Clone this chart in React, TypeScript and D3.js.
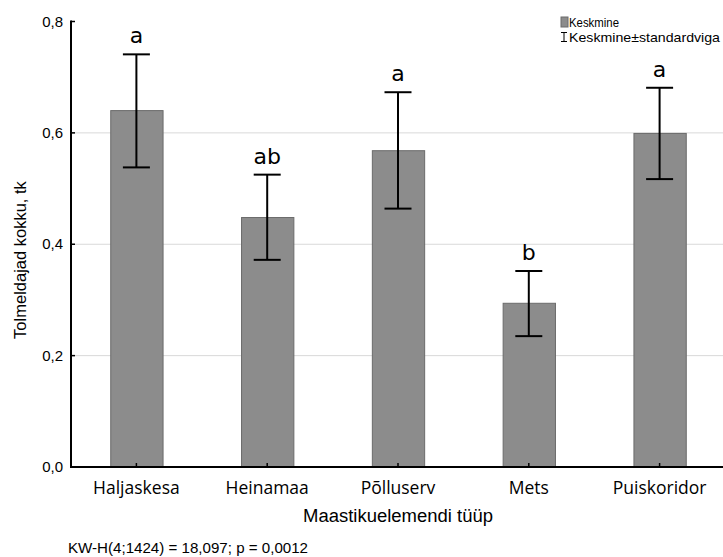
import { useEffect, useRef } from "react";
import * as d3 from "d3";

const categories = ["Haljaskesa", "Heinamaa", "Põlluserv", "Mets", "Puiskoridor"];
const means = [0.64, 0.448, 0.568, 0.294, 0.599];
const upper = [0.741, 0.525, 0.673, 0.352, 0.681];
const lower = [0.538, 0.372, 0.464, 0.235, 0.517];
const groups = ["a", "ab", "a", "b", "a"];
const yTicks = [0, 0.2, 0.4, 0.6, 0.8];

const W = 723;
const H = 557;

const DrawChart = (element: any) => {
  d3.select(element).selectAll("*").remove();

  const svg = d3.select(element);
  const left = 71;
  const right = 725;
  const top = 21.5;
  const bottom = 467;

  const x = d3
    .scaleBand()
    .domain(categories)
    .range([left, right])
    .paddingInner(0.6)
    .paddingOuter(0.3);
  const y = d3.scaleLinear().domain([0, 0.8]).range([bottom, top]);
  const narrow = "'Liberation Sans Narrow', 'Arial Narrow', 'Liberation Sans', sans-serif";

  // grid lines
  svg
    .append("g")
    .selectAll("line")
    .data(yTicks.filter((t) => t > 0 && t < 0.8))
    .enter()
    .append("line")
    .attr("x1", left)
    .attr("x2", W)
    .attr("y1", (d) => y(d))
    .attr("y2", (d) => y(d))
    .style("stroke", "#d9d9d9")
    .style("stroke-width", 1);

  // bars
  svg
    .append("g")
    .selectAll("rect")
    .data(categories)
    .enter()
    .append("rect")
    .attr("x", (d) => x(d)! + 0.5)
    .attr("y", (d, i) => y(means[i]))
    .attr("width", x.bandwidth())
    .attr("height", (d, i) => bottom - y(means[i]))
    .style("fill", "#8c8c8c")
    .style("stroke", "#6b6b6b")
    .style("stroke-width", 1);

  // error bars
  const err = svg.append("g").style("stroke", "#000").style("stroke-width", 2);
  categories.forEach((c, i) => {
    const cx = x(c)! + x.bandwidth() / 2;
    err.append("line").attr("x1", cx).attr("x2", cx).attr("y1", y(upper[i])).attr("y2", y(lower[i]));
    err.append("line").attr("x1", cx - 13.5).attr("x2", cx + 13.5).attr("y1", y(upper[i])).attr("y2", y(upper[i]));
    err.append("line").attr("x1", cx - 13.5).attr("x2", cx + 13.5).attr("y1", y(lower[i])).attr("y2", y(lower[i]));
  });

  // group letters
  svg
    .append("g")
    .selectAll("text")
    .data(categories)
    .enter()
    .append("text")
    .attr("x", (d) => x(d)! + x.bandwidth() / 2)
    .attr("y", (d, i) => y(upper[i]) - 11)
    .attr("text-anchor", "middle")
    .style("font-family", "'DejaVu Sans', Verdana, sans-serif")
    .style("font-size", "22px")
    .style("fill", "#000")
    .text((d, i) => groups[i]);

  // axes
  svg
    .append("line")
    .attr("x1", left)
    .attr("x2", left)
    .attr("y1", top - 1)
    .attr("y2", bottom + 1)
    .style("stroke", "#000")
    .style("stroke-width", 2);
  svg
    .append("line")
    .attr("x1", left - 1)
    .attr("x2", W)
    .attr("y1", bottom)
    .attr("y2", bottom)
    .style("stroke", "#000")
    .style("stroke-width", 2);

  // y ticks
  const yt = svg.append("g");
  yTicks.forEach((t) => {
    yt.append("line")
      .attr("x1", left)
      .attr("x2", left + 4)
      .attr("y1", y(t))
      .attr("y2", y(t))
      .style("stroke", "#000")
      .style("stroke-width", 1.5);
    yt.append("text")
      .attr("x", left - 8)
      .attr("y", y(t) + 5)
      .attr("text-anchor", "end")
      .style("font-family", narrow)
      .style("font-size", "15px")
      .style("fill", "#000")
      .text(d3.format(".1f")(t).replace(".", ","));
  });

  // x ticks and labels
  const xt = svg.append("g");
  categories.forEach((c) => {
    const cx = x(c)! + x.bandwidth() / 2;
    xt.append("line")
      .attr("x1", cx)
      .attr("x2", cx)
      .attr("y1", bottom)
      .attr("y2", bottom - 4)
      .style("stroke", "#000")
      .style("stroke-width", 1.5);
    xt.append("text")
      .attr("x", cx)
      .attr("y", 494)
      .attr("text-anchor", "middle")
      .style("font-family", "'Open Sans', 'DejaVu Sans', sans-serif")
      .style("font-size", "17.5px")
      .style("fill", "#000")
      .text(c);
  });

  // axis titles
  svg
    .append("text")
    .attr("x", 303)
    .attr("y", 522)
    .attr("textLength", 190)
    .attr("lengthAdjust", "spacingAndGlyphs")
    .style("font-family", narrow)
    .style("font-size", "18px")
    .style("fill", "#000")
    .text("Maastikuelemendi tüüp");
  svg
    .append("text")
    .attr("transform", `translate(26, 260) rotate(-90)`)
    .attr("text-anchor", "middle")
    .style("font-family", "'Liberation Sans', Arial, sans-serif")
    .style("font-size", "16.5px")
    .style("fill", "#000")
    .text("Tolmeldajad kokku, tk");

  // stats line
  svg
    .append("text")
    .attr("x", 68)
    .attr("y", 553)
    .attr("textLength", 240)
    .attr("lengthAdjust", "spacingAndGlyphs")
    .style("font-family", narrow)
    .style("font-size", "15px")
    .style("fill", "#000")
    .text("KW-H(4;1424) = 18,097; p = 0,0012");

  // legend
  const lg = svg.append("g");
  lg.append("rect")
    .attr("x", 561)
    .attr("y", 17)
    .attr("width", 7)
    .attr("height", 10)
    .style("fill", "#8c8c8c")
    .style("stroke", "#6b6b6b");
  lg.append("text")
    .attr("x", 569)
    .attr("y", 27)
    .attr("textLength", 50)
    .attr("lengthAdjust", "spacingAndGlyphs")
    .style("font-family", narrow)
    .style("font-size", "13.5px")
    .style("fill", "#000")
    .text("Keskmine");
  lg.append("path")
    .attr("d", "M561,32.5H567M564,32.5V41.5M561,41.5H567")
    .style("fill", "none")
    .style("stroke", "#000")
    .style("stroke-width", 1);
  lg.append("text")
    .attr("x", 569)
    .attr("y", 42)
    .attr("textLength", 151)
    .attr("lengthAdjust", "spacingAndGlyphs")
    .style("font-family", narrow)
    .style("font-size", "13.5px")
    .style("fill", "#000")
    .text("Keskmine±standardviga");
};

export default function App() {
  const ref = useRef<SVGSVGElement>(null);
  useEffect(() => {
    DrawChart(ref.current);
  }, []);
  return (
    <svg
      ref={ref}
      width={W}
      height={H}
      style={{ position: "absolute", left: 0, top: 0, background: "#fff" }}
    />
  );
}
